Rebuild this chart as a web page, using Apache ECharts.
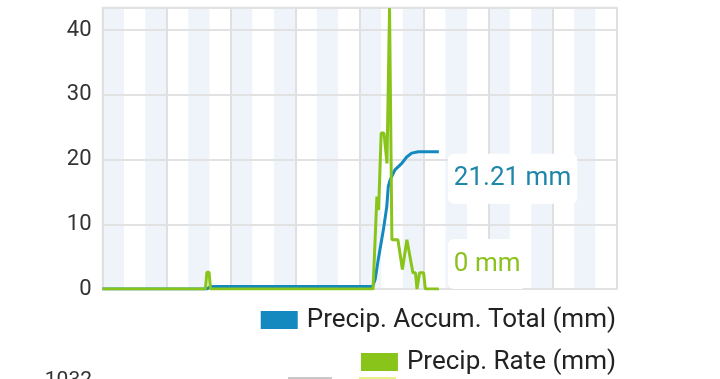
<!DOCTYPE html>
<html>
<head>
<meta charset="utf-8">
<script src="https://cdn.jsdelivr.net/npm/echarts@6/dist/echarts.min.js"></script>
<style>
html,body{margin:0;padding:0;background:#fff;}
#chart{width:720px;height:379px;}
</style>
</head>
<body>
<div id="chart"></div>
<script>
// Time in hours of the day (x), values in mm
const rateTimes  = [0, 4.80, 4.87, 4.97, 5.04, 12.62, 12.80, 12.88, 13.00, 13.13, 13.27, 13.39, 13.50, 13.78, 13.99, 14.20, 14.48, 14.60, 14.67, 14.79, 14.98, 15.06, 15.69];
const rateValues = [0, 0,    2.6,  2.6,  0,    0,     14.3,  12.2,  24.1,  24.1,  19.4,  43.4,  7.6,   7.6,   3.0,   7.6,   2.5,   2.5,   0,     2.5,   2.5,   0,     0];
const accumTimes  = [0, 4.87, 5.04, 12.60, 12.72, 12.86, 13.10, 13.26, 13.33, 13.41, 13.64, 13.96, 14.19, 14.42, 14.73, 15.69];
const accumValues = [0, 0,    0.4,  0.4,   1.5,   4.5,   9.1,   12.7,  15.8,  16.8,  18.4,  19.4,  20.4,  21.0,  21.21, 21.21];
const yTicks = [0, 10, 20, 30, 40];
const seriesNames = ['Precip. Accum. Total (mm)', 'Precip. Rate (mm)'];

const blue = '#1389bf';
const green = '#88c41a';

const accumData = accumTimes.map((t, i) => [t, accumValues[i]]);
const rateData = rateTimes.map((t, i) => [t, rateValues[i]]);

const legendBase = {
  orient: 'vertical', right: 104, align: 'left',
  itemWidth: 37, itemHeight: 18, itemGap: 0, icon: 'rect',
  padding: 0,
  textStyle: {fontSize: 26, color: '#222', fontFamily: 'Roboto', padding: [0, 0, 0, 4]}
};

const chart = echarts.init(document.getElementById('chart'), null, {renderer: 'canvas'});
chart.setOption({
  animation: false,
  textStyle: {fontFamily: 'Roboto'},
  grid: {left: 102.5, right: 103, top: 7.5, bottom: 90, show: true, borderColor: '#e2e2e2', borderWidth: 1.5, backgroundColor: 'transparent'},
  xAxis: [
    {type: 'value', min: 0, max: 24, interval: 1, axisLine: {show: false}, axisTick: {show: false}, axisLabel: {show: false},
     splitLine: {show: false}, splitArea: {show: true, areaStyle: {color: ['#eef4fa', '#ffffff']}}},
    {type: 'value', min: 0, max: 24, interval: 3, position: 'bottom', z: 3, axisLine: {show: false}, axisTick: {show: false}, axisLabel: {show: false},
     splitLine: {show: true, lineStyle: {color: '#e0e0e0', width: 2}}}
  ],
  yAxis: {
    type: 'value', min: 0, max: 43.5, interval: 10, z: 3,
    axisLine: {show: false}, axisTick: {show: false},
    axisLabel: {color: '#333', fontSize: 22, margin: 11, fontFamily: 'Roboto',
      formatter: v => yTicks.indexOf(v) >= 0 ? String(v) : ''},
    splitLine: {show: true, lineStyle: {color: '#e2e2e2', width: 2}}
  },
  legend: [
    Object.assign({}, legendBase, {top: 307, data: [seriesNames[0]]}),
    Object.assign({}, legendBase, {top: 349, data: [seriesNames[1]]})
  ],
  series: [
    {name: seriesNames[0], type: 'line', data: accumData, showSymbol: false, symbol: 'none', z: 5,
     lineStyle: {color: blue, width: 3}, itemStyle: {color: blue},
     endLabel: {show: true, formatter: p => p.value[1] + ' mm', color: '#1e86a8', fontSize: 26, fontFamily: 'Roboto',
       backgroundColor: '#fff', padding: [12, 6], borderRadius: 6, distance: 5, offset: [4, 27]}},
    {name: seriesNames[1], type: 'line', data: rateData, showSymbol: false, symbol: 'none', z: 6,
     lineStyle: {color: green, width: 3}, itemStyle: {color: green},
     endLabel: {show: true, formatter: p => p.value[1] + ' mm', color: '#8cc21f', fontSize: 26, fontFamily: 'Roboto',
       backgroundColor: '#fff', padding: [12, 6], borderRadius: 6, distance: 5, offset: [4, -25]}}
  ],
  graphic: [
    {type: 'text', right: 628, top: 370, style: {text: '1032', fontSize: 21, fill: '#333', fontFamily: 'Roboto'}},
    {type: 'rect', shape: {x: 288, y: 377, width: 44, height: 2}, style: {fill: '#c8c8c8'}},
    {type: 'rect', shape: {x: 359, y: 377, width: 37, height: 2}, style: {fill: '#e6f28a'}}
  ]
});
</script>
</body>
</html>
